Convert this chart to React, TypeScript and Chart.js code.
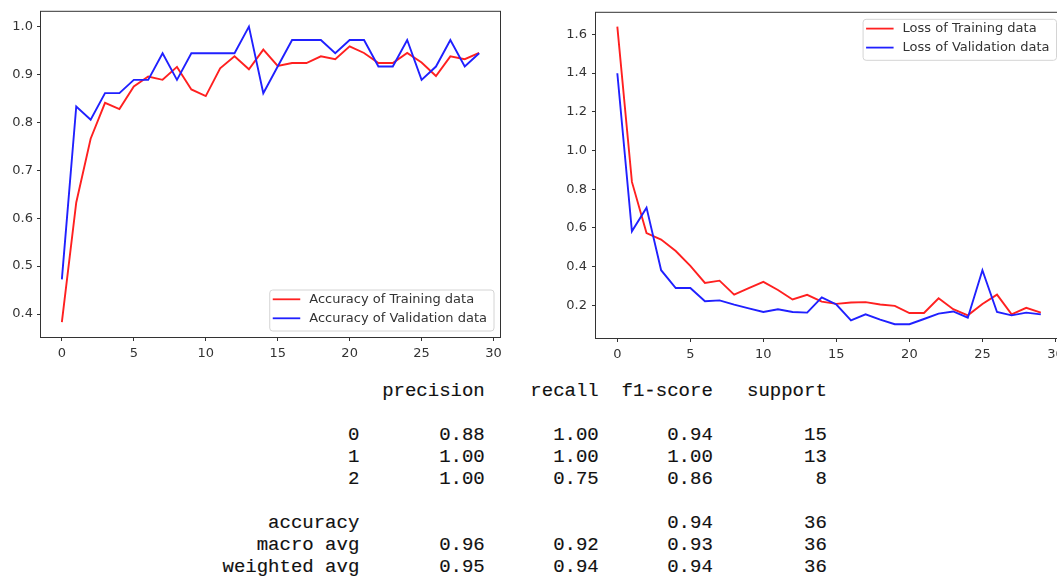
import React, { useEffect, useRef } from "react";
import { Chart, registerables } from "chart.js";

Chart.register(...registerables);

// ---------- data ----------
const epochs = [0, 1, 2, 3, 4, 5, 6, 7, 8, 9, 10, 11, 12, 13, 14, 15, 16, 17, 18, 19, 20, 21, 22, 23, 24, 25, 26, 27, 28, 29];

const accTraining = [0.383, 0.633, 0.766, 0.841, 0.828, 0.875, 0.896, 0.889, 0.916, 0.869, 0.855, 0.913, 0.938, 0.911, 0.952, 0.918, 0.924, 0.924, 0.938, 0.932, 0.959, 0.945, 0.924, 0.924, 0.945, 0.925, 0.897, 0.938, 0.932, 0.945];
const accValidation = [0.4722, 0.8333, 0.8056, 0.8611, 0.8611, 0.8889, 0.8889, 0.9444, 0.8889, 0.9444, 0.9444, 0.9444, 0.9444, 1.0, 0.8611, 0.9167, 0.9722, 0.9722, 0.9722, 0.9444, 0.9722, 0.9722, 0.9167, 0.9167, 0.9722, 0.8889, 0.9167, 0.9722, 0.9167, 0.9444];

const lossTraining = [1.64, 0.838, 0.574, 0.54, 0.481, 0.404, 0.316, 0.328, 0.256, 0.29, 0.322, 0.28, 0.231, 0.255, 0.22, 0.208, 0.215, 0.217, 0.205, 0.198, 0.161, 0.161, 0.237, 0.181, 0.149, 0.208, 0.256, 0.154, 0.188, 0.163];
const lossValidation = [1.399, 0.583, 0.705, 0.382, 0.29, 0.29, 0.222, 0.226, 0.204, 0.185, 0.166, 0.18, 0.166, 0.163, 0.242, 0.205, 0.123, 0.154, 0.127, 0.103, 0.103, 0.13, 0.158, 0.169, 0.137, 0.382, 0.166, 0.149, 0.163, 0.154];

const accLabels = ["Accuracy of Training data", "Accuracy of Validation data"];
const lossLabels = ["Loss of Training data", "Loss of Validation data"];

const reportHeaders = ["precision", "recall", "f1-score", "support"];
const classLabels = ["0", "1", "2"];
const precision = [0.88, 1.0, 1.0];
const recall = [1.0, 1.0, 0.75];
const f1Score = [0.94, 1.0, 0.86];
const support = [15, 13, 8];
const accuracyScore = 0.94;
const totalSupport = 36;
const macroAvg = [0.96, 0.92, 0.93];
const weightedAvg = [0.95, 0.94, 0.94];

// ---------- styling ----------
const FONT = "'DejaVu Sans', sans-serif";
const RED = "#ff2020";
const BLUE = "#2020ff";
const AXIS = "#333333";
const TEXT_SIZE = 13;

const mplPlugin = {
  id: "mpl",
  afterDatasetsDraw(chart: any) {
    const { ctx, chartArea: a } = chart;
    ctx.save();
    ctx.strokeStyle = AXIS;
    ctx.lineWidth = 1;
    ctx.strokeRect(a.left - 0.5, a.top - 0.5, a.right - a.left + 1, a.bottom - a.top + 1);
    ctx.restore();
  },
  afterDraw(chart: any, _args: any, opts: any) {
    const { ctx, chartArea: a } = chart;
    const items = chart.data.datasets.map((d: any) => ({ label: d.label, color: d.borderColor }));
    ctx.save();
    ctx.font = `${TEXT_SIZE}px ${FONT}`;
    const tw = Math.max(...items.map((i: any) => ctx.measureText(i.label).width));
    const w = 40 + tw + 6.5;
    const h = 41;
    let x: number, y: number;
    if (opts.loc === "lower right") {
      x = a.right - 6.5 - w;
      y = a.bottom - 6.5 - h;
    } else {
      x = a.right - 6 - w;
      y = a.top + 6;
    }
    ctx.beginPath();
    ctx.roundRect(x + 0.5, y + 0.5, w, h, 3);
    ctx.fillStyle = "rgba(255,255,255,0.8)";
    ctx.fill();
    ctx.strokeStyle = "#d4d4d4";
    ctx.lineWidth = 1;
    ctx.stroke();
    items.forEach((it: any, k: number) => {
      const ly = y + 9.8 + k * 19;
      ctx.strokeStyle = it.color;
      ctx.lineWidth = 1.8;
      ctx.beginPath();
      ctx.moveTo(x + 3.5, ly);
      ctx.lineTo(x + 31, ly);
      ctx.stroke();
      ctx.fillStyle = AXIS;
      ctx.textBaseline = "middle";
      ctx.textAlign = "left";
      ctx.fillText(it.label, x + 40, ly + 0.5);
    });
    ctx.restore();
  },
};

function makeConfig(p: {
  train: number[];
  val: number[];
  labels: string[];
  yMin: number;
  yMax: number;
  yStep: number;
  xMin: number;
  xMax: number;
  yWidth: number;
  xHeight: number;
  padding: { left: number; top: number; right: number; bottom: number };
  loc: string;
  yPad: number;
}): any {
  const tickFont = { family: FONT, size: TEXT_SIZE };
  return {
    type: "line",
    data: {
      datasets: [
        {
          label: p.labels[0],
          data: epochs.map((e, i) => ({ x: e, y: p.train[i] })),
          borderColor: RED,
          backgroundColor: RED,
          borderWidth: 1.9,
          pointRadius: 0,
          tension: 0,
          fill: false,
          order: 1,
        },
        {
          label: p.labels[1],
          data: epochs.map((e, i) => ({ x: e, y: p.val[i] })),
          borderColor: BLUE,
          backgroundColor: BLUE,
          borderWidth: 1.9,
          pointRadius: 0,
          tension: 0,
          fill: false,
          order: 0,
        },
      ],
    },
    options: {
      responsive: false,
      animation: false,
      devicePixelRatio: 1,
      layout: { padding: p.padding },
      plugins: {
        legend: { display: false },
        tooltip: { enabled: false },
        mpl: { loc: p.loc },
      },
      scales: {
        x: {
          type: "linear",
          min: p.xMin,
          max: p.xMax,
          afterFit: (s: any) => {
            s.height = p.xHeight;
          },
          ticks: {
            stepSize: 5,
            includeBounds: false,
            color: AXIS,
            font: tickFont,
            padding: 5,
            maxRotation: 0,
            autoSkip: false,
            callback: (v: any) => String(v),
          },
          grid: { drawOnChartArea: false, drawTicks: true, tickLength: 4, color: AXIS, tickColor: AXIS, tickWidth: 1 },
          border: { display: false },
        },
        y: {
          type: "linear",
          min: p.yMin,
          max: p.yMax,
          afterFit: (s: any) => {
            s.width = p.yWidth;
          },
          ticks: {
            stepSize: p.yStep,
            includeBounds: false,
            color: AXIS,
            font: tickFont,
            padding: p.yPad,
            autoSkip: false,
            callback: (v: any) => Number(v).toFixed(1),
          },
          grid: { drawOnChartArea: false, drawTicks: true, tickLength: 4, color: AXIS, tickColor: AXIS, tickWidth: 1 },
          border: { display: false },
        },
      },
    },
    plugins: [mplPlugin],
  };
}

function ChartBox(props: { config: any; left: number; width: number; height: number }) {
  const ref = useRef<HTMLCanvasElement | null>(null);
  useEffect(() => {
    if (!ref.current) return;
    const chart = new Chart(ref.current, props.config);
    return () => chart.destroy();
  }, []);
  return (
    <div style={{ position: "absolute", left: props.left, top: 0, width: props.width, height: props.height }}>
      <canvas ref={ref} width={props.width} height={props.height} style={{ display: "block" }} />
    </div>
  );
}

function buildReport(): string {
  const W = 12;
  const pad = (s: string, n: number) => s.padStart(n);
  const lines: string[] = [];
  lines.push(pad("", W) + " " + reportHeaders.map((h) => " " + pad(h, 9)).join(""));
  lines.push("");
  classLabels.forEach((c, i) => {
    lines.push(
      pad(c, W) + " " +
        " " + pad(precision[i].toFixed(2), 9) +
        " " + pad(recall[i].toFixed(2), 9) +
        " " + pad(f1Score[i].toFixed(2), 9) +
        " " + pad(String(support[i]), 9)
    );
  });
  lines.push("");
  lines.push(pad("accuracy", W) + " " + " " + pad("", 9) + " " + pad("", 9) + " " + pad(accuracyScore.toFixed(2), 9) + " " + pad(String(totalSupport), 9));
  const avgRow = (name: string, v: number[]) =>
    pad(name, W) + " " + v.map((x) => " " + pad(x.toFixed(2), 9)).join("") + " " + pad(String(totalSupport), 9);
  lines.push(avgRow("macro avg", macroAvg));
  lines.push(avgRow("weighted avg", weightedAvg));
  return lines.join("\n");
}

export default function App() {
  const accConfig = makeConfig({
    train: accTraining,
    val: accValidation,
    labels: accLabels,
    yMin: 0.352,
    yMax: 1.031,
    yStep: 0.1,
    xMin: -1.45,
    xMax: 30.45,
    yWidth: 41,
    xHeight: 28,
    padding: { left: 0, top: 6, right: 10, bottom: 0 },
    loc: "lower right",
    yPad: 4,
  });
  const lossConfig = makeConfig({
    train: lossTraining,
    val: lossValidation,
    labels: lossLabels,
    yMin: 0.032,
    yMax: 1.711,
    yStep: 0.2,
    xMin: -1.46,
    xMax: 30.45,
    yWidth: 46,
    xHeight: 27,
    padding: { left: 0, top: 9, right: 8, bottom: 0 },
    loc: "upper right",
    yPad: 5,
  });
  return (
    <div style={{ position: "absolute", left: 0, top: 0, width: 1057, height: 577, overflow: "hidden", background: "#fff" }}>
      <ChartBox config={accConfig} left={0} width={510} height={365} />
      <ChartBox config={lossConfig} left={550} width={520} height={365} />
      <pre
        style={{
          position: "absolute",
          left: 222.5,
          top: 380,
          margin: 0,
          fontFamily: "'Liberation Mono', monospace",
          fontSize: 19,
          lineHeight: "22px",
          color: "#111",
          WebkitTextStroke: "0.15px #111",
        }}
      >
        {buildReport()}
      </pre>
    </div>
  );
}
